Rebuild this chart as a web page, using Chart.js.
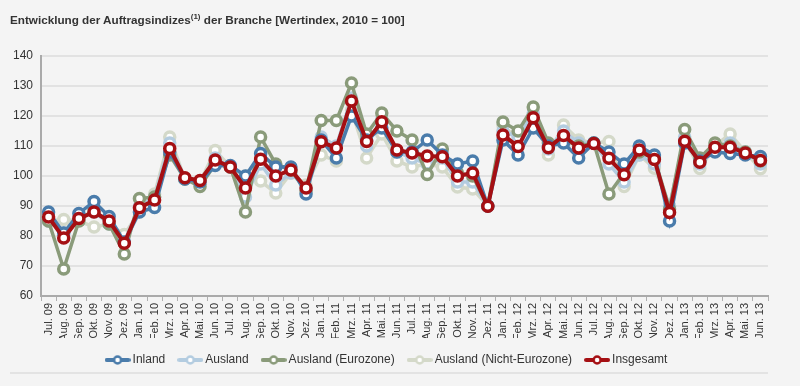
<!DOCTYPE html>
<html>
<head>
<meta charset="utf-8">
<script src="https://cdn.jsdelivr.net/npm/chart.js@4.4.1/dist/chart.umd.min.js"></script>
<style>
body { margin: 0; background: #f4f4f4; font-family: Arial, "Liberation Sans", sans-serif; }
#wrap { position: relative; width: 800px; height: 386px; }
#title { position: absolute; left: 10px; top: 13px; font-size: 11.7px; font-weight: bold; color: #333; white-space: nowrap; }
#title sup { font-size: 8px; line-height: 0; }
#sep { position: absolute; left: 10px; top: 372px; width: 758px; border-top: 2px solid #e3e3e3; }
canvas { position: absolute; left: 0; top: 0; }
</style>
</head>
<body>
<div id="wrap">
  <canvas id="myChart" width="800" height="386"></canvas>
  <div id="title">Entwicklung der Auftragsindizes<sup>(1)</sup> der Branche [Wertindex, 2010 = 100]</div>
  <div id="sep"></div>
</div>
<script>
const monate = ['Jul. 09', 'Aug. 09', 'Sep. 09', 'Okt. 09', 'Nov. 09', 'Dez. 09',
    'Jan. 10', 'Feb. 10', 'Mrz. 10', 'Apr. 10', 'Mai. 10', 'Jun. 10', 'Jul. 10', 'Aug. 10', 'Sep. 10', 'Okt. 10', 'Nov. 10', 'Dez. 10',
    'Jan. 11', 'Feb. 11', 'Mrz. 11', 'Apr. 11', 'Mai. 11', 'Jun. 11', 'Jul. 11', 'Aug. 11', 'Sep. 11', 'Okt. 11', 'Nov. 11', 'Dez. 11',
    'Jan. 12', 'Feb. 12', 'Mrz. 12', 'Apr. 12', 'Mai. 12', 'Jun. 12', 'Jul. 12', 'Aug. 12', 'Sep. 12', 'Okt. 12', 'Nov. 12', 'Dez. 12',
    'Jan. 13', 'Feb. 13', 'Mrz. 13', 'Apr. 13', 'Mai. 13', 'Jun. 13']

const inland = [88, 81, 87.5, 91.5, 86.5, 78, 88, 89.5, 108, 99, 98, 103.5, 103.5, 100, 107.5, 103, 103, 94,
    112, 106, 120, 112, 116, 108, 108, 112, 107, 104, 105, 90,
    112, 107, 116, 110, 111, 106, 111, 108, 104, 110, 107, 85,
    111, 105, 108, 107.5, 107, 106.5]
const ausland = [85, 81, 86, 88, 84, 78, 90, 93, 111, 99, 98, 106, 103, 93, 104, 97, 101, 96,
    113, 110, 126, 110, 119, 108, 106, 104, 106, 98, 98, 90,
    115, 113, 121, 109, 115, 111, 111, 104, 98, 107, 104, 90,
    113, 104, 110, 111, 108, 104]
const eurozone = [85, 69, 85, 89, 84, 74, 92.5, 93, 107, 99, 96.5, 104, 103, 88, 113, 104, 102, 95,
    118.5, 118.5, 131, 114, 121, 115, 112, 100.5, 109, 101, 100, 90,
    118, 115, 123, 111, 112, 110, 111, 94, 101, 108, 106, 89,
    115.5, 106, 111, 110, 108, 105]
const nichtEurozone = [85, 85.5, 85, 83, 84, 80.5, 88, 94, 113, 99, 98, 108.5, 103, 100, 98.3, 94.3, 101, 97,
    107, 105, 122, 106, 114, 105, 103, 104, 103, 96.3, 95.7, 90,
    117, 112, 120, 107, 117, 112, 111, 111.5, 96.5, 107, 102.6, 90,
    112, 102.5, 110, 114, 108, 102.4]
const insgesamt = [86.3, 79.3, 85.8, 88, 85, 77.6, 89.4, 92, 109.2, 99.4, 98.5, 105.3, 103, 96, 105.6, 100, 102, 96,
    111.4, 109.3, 125, 111.5, 118.1, 108.7, 107.7, 106.7, 106.4, 100, 101, 89.9,
    113.7, 109.8, 119.4, 109.4, 113.5, 109.3, 110.8, 105.9, 100.4, 108.7, 105.5, 87.8,
    111.6, 104.6, 109.6, 109.6, 107.7, 105.2]

Chart.defaults.font.family = 'Arial, "Liberation Sans", sans-serif'

function marker(color) {
    const c = document.createElement('canvas')
    c.width = 26
    c.height = 12
    const g = c.getContext('2d')
    g.strokeStyle = color
    g.lineCap = 'round'
    g.lineWidth = 4
    g.beginPath()
    g.moveTo(2, 6)
    g.lineTo(24, 6)
    g.stroke()
    g.beginPath()
    g.arc(13, 6, 3.5, 0, Math.PI * 2)
    g.fillStyle = '#fff'
    g.fill()
    g.lineWidth = 2.5
    g.stroke()
    return c
}

function serie(label, data, color, order, width) {
    return {
        label: label,
        data: data,
        borderColor: color,
        backgroundColor: color,
        borderWidth: width,
        pointRadius: 5,
        pointBorderWidth: 3.5,
        pointBackgroundColor: '#fff',
        pointBorderColor: color,
        fill: false,
        tension: 0,
        order: order
    }
}

const data = {
    labels: monate,
    datasets: [
        serie('Inland', inland, '#4a7cab', 1, 3.5),
        serie('Ausland', ausland, '#b3cce0', 3, 3.5),
        serie('Ausland (Eurozone)', eurozone, '#8a9b7a', 2, 3.5),
        serie('Ausland (Nicht-Eurozone)', nichtEurozone, '#d4d9c9', 4, 3.5),
        serie('Insgesamt', insgesamt, '#a50f13', 0, 4)
    ]
}

const config = {
    type: 'line',
    data: data,
    options: {
        responsive: false,
        animation: false,
        layout: { padding: { top: 56, left: 8, right: 32, bottom: 10 } },
        plugins: {
            tooltip: { enabled: false },
            legend: {
                position: 'bottom',
                labels: {
                    usePointStyle: true,
                    pointStyleWidth: 18,
                    boxHeight: 12,
                    padding: 16,
                    color: '#333',
                    font: { size: 12 },
                    generateLabels: function(chart) {
                        return chart.data.datasets.map(function(ds, i) {
                            return {
                                text: ds.label,
                                fillStyle: ds.borderColor,
                                strokeStyle: ds.borderColor,
                                fontColor: '#333',
                                pointStyle: marker(ds.borderColor),
                                datasetIndex: i,
                                hidden: false
                            }
                        })
                    }
                }
            }
        },
        scales: {
            x: {
                offset: true,
                grid: { offset: true, drawOnChartArea: false, drawTicks: true, tickLength: 5, color: '#b0b0b0' },
                border: { color: '#aaa', width: 2 },
                ticks: { minRotation: 90, maxRotation: 90, autoSkip: false, color: '#333', font: { size: 11 }, padding: 2 },
                afterFit: function(s) { s.height = 42 }
            },
            y: {
                min: 60,
                max: 140,
                ticks: { stepSize: 10, color: '#333', font: { size: 12 }, padding: 8 },
                grid: { color: '#e2e2e2', lineWidth: 2, drawTicks: false },
                border: { color: '#aaa', width: 2 },
                afterFit: function(s) { s.width = 33 }
            }
        }
    }
}

var myChart = new Chart(document.getElementById('myChart'), config)
</script>
</body>
</html>
